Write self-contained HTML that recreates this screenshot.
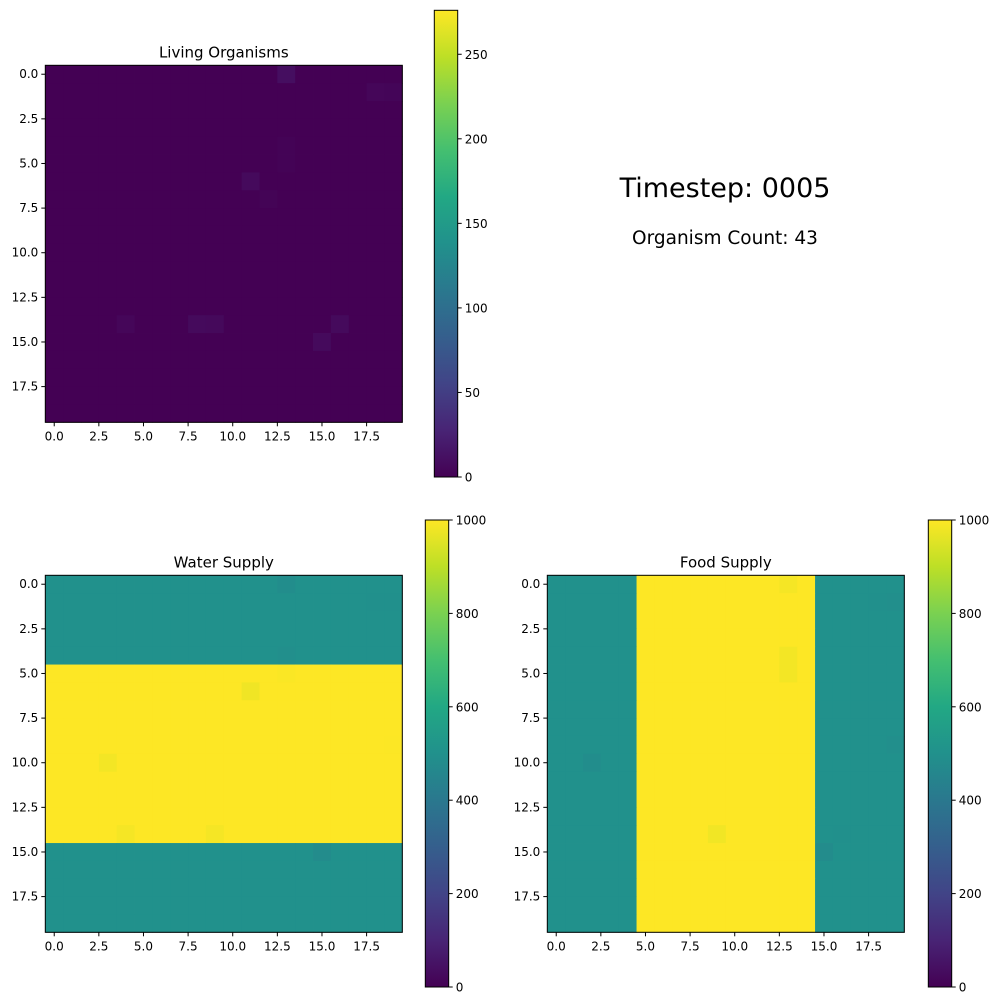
<!DOCTYPE html>
<html><head><meta charset="utf-8"><style>
html,body{margin:0;padding:0;background:#fff;}
svg{display:block;font-family:"DejaVu Sans","Liberation Sans",sans-serif;}
</style></head><body>
<svg id="fig" width="1000" height="1000" viewBox="0 0 1000 1000">
<defs>
<linearGradient id="vir" x1="0" y1="1" x2="0" y2="0">
<stop offset="0" stop-color="#440154"/><stop offset="0.1" stop-color="#482475"/><stop offset="0.2" stop-color="#414487"/><stop offset="0.3" stop-color="#355f8d"/><stop offset="0.4" stop-color="#2a788e"/><stop offset="0.5" stop-color="#21918c"/><stop offset="0.6" stop-color="#22a884"/><stop offset="0.7" stop-color="#44bf70"/><stop offset="0.8" stop-color="#7ad151"/><stop offset="0.9" stop-color="#bddf26"/><stop offset="1" stop-color="#fde725"/>
</linearGradient>
</defs>
<text x="725" y="197" font-size="27" text-anchor="middle">Timestep: 0005</text>
<text x="725" y="244" font-size="18.5" text-anchor="middle">Organism Count: 43</text>
</svg>
<script>
// ---- data ----
const gridSize = 20;
const organismBase = 0;
const organismAnomalies = [[0,13,10],[1,18,4],[1,19,3],[4,13,1.5],[5,13,1.5],[6,11,7],[7,12,2],[14,4,4],[14,8,7],[14,9,6],[14,16,7],[15,15,7]];
const waterHighRows = [5,14];
const waterLow = 500, waterHigh = 1000;
const waterAnomalies = [[0,13,485],[1,18,495],[1,19,495],[4,13,490],[5,13,995],[6,11,980],[9,19,998],[10,3,985],[14,4,988],[14,9,988],[15,15,480]];
const foodHighCols = [5,14];
const foodLow = 500, foodHigh = 1000;
const foodAnomalies = [[0,13,988],[1,18,495],[1,19,490],[4,13,985],[5,13,985],[9,19,490],[10,2,485],[14,9,982],[14,16,495],[15,15,480]];
const axisTicks = [0,2.5,5,7.5,10,12.5,15,17.5];
const orgCbarTicks = [0,50,100,150,200,250];
const supplyCbarTicks = [0,200,400,600,800,1000];
const orgMax = 276, supplyMax = 1000;

const VIR=[[68,1,84],[72,36,117],[65,68,135],[53,95,141],[42,120,142],[33,145,140],[34,168,132],[68,191,112],[122,209,81],[189,223,38],[253,231,37]];
function viridis(t){t=Math.max(0,Math.min(1,t));const f=t*10,i=Math.min(9,Math.floor(f)),r=f-i;const a=VIR[i],b=VIR[i+1];return `rgb(${a.map((v,k)=>Math.round(v+(b[k]-v)*r)).join(',')})`;}
const NS="http://www.w3.org/2000/svg";
const svg=document.getElementById('fig');
function el(tag,attrs,parent){const e=document.createElementNS(NS,tag);for(const k in attrs)e.setAttribute(k,attrs[k]);(parent||svg).appendChild(e);return e;}

function buildGrid(fn,anoms){const g=[];for(let r=0;r<gridSize;r++){g.push([]);for(let c=0;c<gridSize;c++)g[r].push(fn(r,c));}anoms.forEach(a=>{g[a[0]][a[1]]=a[2];});return g;}
const orgGrid=buildGrid(()=>organismBase,organismAnomalies);
const waterGrid=buildGrid((r)=>(r>=waterHighRows[0]&&r<=waterHighRows[1])?waterHigh:waterLow,waterAnomalies);
const foodGrid=buildGrid((r,c)=>(c>=foodHighCols[0]&&c<=foodHighCols[1])?foodHigh:foodLow,foodAnomalies);

function heatmap(name,title,grid,vmax,x0,y0,size,cb){
  const g=el('g',{});
  
  
  const cell=size/gridSize;
  const xs=v=>x0+(v+0.5)*cell, ys=v=>y0+(v+0.5)*cell;
  for(let r=0;r<gridSize;r++)for(let c=0;c<gridSize;c++){
    const rc=el('rect',{x:x0+c*cell,y:y0+r*cell,width:cell+0.4,height:cell+0.4,fill:viridis(grid[r][c]/vmax)},g);
    
    
  }
  el('rect',{x:x0,y:y0,width:size,height:size,fill:'none',stroke:'#000','stroke-width':1},g);
  const t=el('text',{x:x0+size/2,y:y0-8,'font-size':15,'text-anchor':'middle'},g);t.textContent=title;
  
  
  axisTicks.forEach(v=>{
    el('line',{x1:xs(v),x2:xs(v),y1:y0+size,y2:y0+size+4,stroke:'#000'},g);
    const tx=el('text',{x:xs(v),y:y0+size+18,'font-size':12,'text-anchor':'middle'},g);tx.textContent=v.toFixed(1);
    
    
    el('line',{x1:x0-4,x2:x0,y1:ys(v),y2:ys(v),stroke:'#000'},g);
    const ty=el('text',{x:x0-7,y:ys(v)+4,'font-size':12,'text-anchor':'end'},g);ty.textContent=v.toFixed(1);
    
    
  });
  const cbg=el('g',{});
  
  
  el('rect',{x:cb.x,y:cb.y,width:cb.w,height:cb.h,fill:'url(#vir)',stroke:'#000','stroke-width':1},cbg);
  cb.ticks.forEach(v=>{const y=cb.y+cb.h-v/vmax*cb.h;
    el('line',{x1:cb.x+cb.w,x2:cb.x+cb.w+4,y1:y,y2:y,stroke:'#000'},cbg);
    const tt=el('text',{x:cb.x+cb.w+7,y:y+4.5,'font-size':12},cbg);tt.textContent=v;
    
    
  });
}
heatmap('living-organisms-heatmap','Living Organisms',orgGrid,orgMax,45.3,65.3,357,{x:434.3,y:10.3,w:23.4,h:466.7,ticks:orgCbarTicks});
heatmap('water-supply-heatmap','Water Supply',waterGrid,supplyMax,45.3,575.3,357,{x:425.3,y:520,w:23.4,h:467,ticks:supplyCbarTicks});
heatmap('food-supply-heatmap','Food Supply',foodGrid,supplyMax,547.3,575.3,357,{x:928.3,y:520,w:23.4,h:467,ticks:supplyCbarTicks});
</script>
</body></html>
